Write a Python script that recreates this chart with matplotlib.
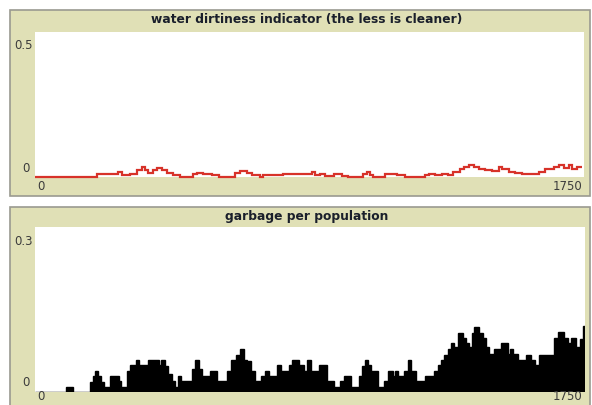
import matplotlib
matplotlib.use("Agg")
import matplotlib.pyplot as plt
from matplotlib.patches import Rectangle

# water dirtiness indicator: step start (tick) and value
water_start = [0, 197, 266, 277, 303, 324, 340, 351, 361, 377,
               388, 404, 420, 441, 463, 505, 516, 537, 564, 585,
               638, 654, 675, 691, 718, 728, 792, 835, 861, 883,
               893, 909, 925, 952, 978, 999, 1047, 1058, 1069, 1079,
               1117, 1132, 1154, 1180, 1244, 1255, 1276, 1297, 1318, 1334,
               1356, 1366, 1382, 1398, 1414, 1436, 1457, 1478, 1489, 1510,
               1531, 1553, 1606, 1627, 1653, 1669, 1685, 1701, 1712, 1728]
water_val = [0, 0.011, 0.017, 0.006, 0.011, 0.023, 0.034, 0.023, 0.014, 0.023,
             0.032, 0.023, 0.014, 0.006, 0, 0.009, 0.014, 0.009, 0.006, 0,
             0.014, 0.02, 0.014, 0.006, 0, 0.008, 0.009, 0.011, 0.009, 0.017,
             0.006, 0.011, 0.002, 0.009, 0.002, 0, 0.009, 0.017, 0.006, 0,
             0.009, 0.011, 0.008, 0, 0.006, 0.009, 0.006, 0.011, 0.006, 0.017,
             0.029, 0.034, 0.04, 0.034, 0.029, 0.023, 0.02, 0.034, 0.029, 0.017,
             0.014, 0.011, 0.017, 0.029, 0.034, 0.04, 0.032, 0.04, 0.029, 0.034]
water_end = 1744

# garbage per population: step start (tick) and value
garbage_start = [0, 98, 122, 175, 184, 192, 202, 210, 218, 239,
                 266, 273, 292, 301, 322, 330, 361, 393, 401, 415,
                 424, 436, 444, 455, 466, 500, 508, 521, 532, 558,
                 580, 612, 625, 638, 651, 666, 675, 686, 700, 718,
                 731, 744, 771, 782, 808, 819, 840, 856, 867, 877,
                 904, 928, 950, 971, 983, 1007, 1031, 1042, 1050, 1058,
                 1069, 1090, 1111, 1124, 1138, 1146, 1156, 1175, 1186, 1196,
                 1212, 1241, 1271, 1282, 1292, 1302, 1313, 1324, 1334, 1345,
                 1361, 1372, 1382, 1391, 1398, 1414, 1425, 1436, 1444, 1462,
                 1483, 1505, 1512, 1521, 1537, 1563, 1579, 1590, 1604, 1650,
                 1664, 1682, 1696, 1707, 1720, 1733, 1744]
garbage_val = [0, 0.0085, 0, 0.019, 0.029, 0.038, 0.029, 0.019, 0.009, 0.029,
               0.02, 0.009, 0.038, 0.05, 0.059, 0.05, 0.059, 0.05, 0.059, 0.048,
               0.032, 0.02, 0.009, 0.029, 0.02, 0.041, 0.058, 0.041, 0.029, 0.038,
               0.02, 0.039, 0.058, 0.068, 0.079, 0.058, 0.056, 0.039, 0.02, 0.029,
               0.038, 0.029, 0.05, 0.039, 0.05, 0.059, 0.05, 0.039, 0.058, 0.038,
               0.05, 0.02, 0.009, 0.02, 0.029, 0.009, 0.029, 0.047, 0.058, 0.05,
               0.039, 0.009, 0.02, 0.038, 0.029, 0.038, 0.029, 0.038, 0.058, 0.038,
               0.02, 0.029, 0.038, 0.05, 0.059, 0.068, 0.078, 0.089, 0.081, 0.108,
               0.099, 0.09, 0.081, 0.108, 0.119, 0.108, 0.099, 0.081, 0.07, 0.079,
               0.089, 0.07, 0.079, 0.07, 0.059, 0.068, 0.058, 0.05, 0.068, 0.099,
               0.109, 0.099, 0.09, 0.099, 0.081, 0.096, 0.12]
garbage_end = 1750

titles = ["water dirtiness indicator (the less is cleaner)", "garbage per population"]
y_max = [0.5, 0.3]
x_max = 1750

panel_bg = "#e0e0b6"
title_col = "#1a1f2b"
label_col = "#3c3c3c"

fig = plt.figure(figsize=(5.92, 4.05), dpi=100)
fig.patch.set_facecolor("white")

# the two beige panels, behind the axes
fig.patches.append(Rectangle((10 / 592, 1 - 196 / 405), 580 / 592, 186 / 405,
                             transform=fig.transFigure, facecolor=panel_bg,
                             edgecolor="#9a9a90", lw=1.2, zorder=-5))
fig.patches.append(Rectangle((10 / 592, -0.05), 580 / 592, 0.05 + 1 - 207 / 405,
                             transform=fig.transFigure, facecolor=panel_bg,
                             edgecolor="#9a9a90", lw=1.2, zorder=-5))

ax1 = fig.add_axes([35 / 592, 1 - 177 / 405, 549 / 592, 145 / 405])
ax2 = fig.add_axes([35 / 592, 1 - 392 / 405, 550 / 592, 165 / 405])

ax1.stairs(water_val, water_start + [water_end], baseline=None,
           color="#d73229", lw=1.6, clip_on=False)
ax2.stairs(garbage_val, garbage_start + [garbage_end], fill=True,
           facecolor="black", edgecolor="black", lw=1.0)

title_y = [1 - 20 / 405, 1 - 217 / 405]
x_lab_y = [1 - 186 / 405, 1 - 397 / 405]
for ax, title, ym, ty, ly in zip([ax1, ax2], titles, y_max, title_y, x_lab_y):
    ax.set_xlim(0, x_max)
    ax.set_ylim(0, ym)
    ax.set_facecolor("white")
    for s in ax.spines.values():
        s.set_visible(False)
    ax.set_xticks([])
    ax.set_yticks([])
    fig.text(307 / 592, ty, title, ha="center", va="center", fontsize=8.8,
             fontweight="bold", color=title_col)
    # NetLogo style axis labels: min / max only
    ax.text(-0.004, 0.91, f"{ym:g}", transform=ax.transAxes, ha="right",
            va="center", fontsize=8.5, color=label_col)
    ax.text(-0.01, 0.06, "0", transform=ax.transAxes, ha="right",
            va="center", fontsize=8.5, color=label_col)
    fig.text(37 / 592, ly, "0", ha="left", va="center", fontsize=8.5,
             color=label_col)
    fig.text(582 / 592, ly, str(x_max), ha="right", va="center",
             fontsize=8.5, color=label_col)

fig.savefig("out.png", dpi=100, facecolor="white")
